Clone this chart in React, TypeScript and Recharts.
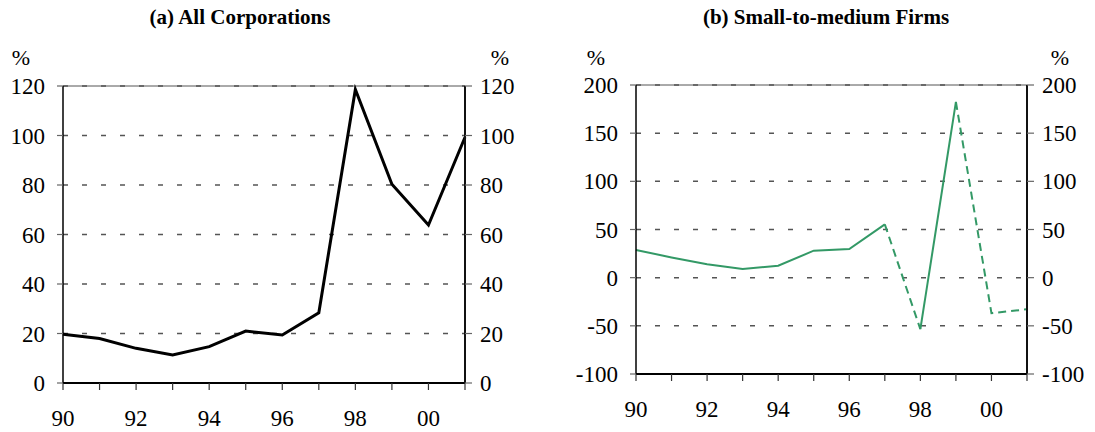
import { CartesianGrid, Line, LineChart, ReferenceLine, XAxis, YAxis } from "recharts";

const years = [1990, 1991, 1992, 1993, 1994, 1995, 1996, 1997, 1998, 1999, 2000, 2001];
const yearLabels = ["90", "", "92", "", "94", "", "96", "", "98", "", "00", ""];

// (a) all corporations, %
const allCorporations = [19.7, 18, 14, 11.3, 14.7, 21, 19.4, 28.4, 118.6, 80.3, 63.8, 99.3];
const allTicks = [0, 20, 40, 60, 80, 100, 120];

// (b) small-to-medium firms, %
const smeFirms = [28.8, 21, 14, 9.1, 12.4, 28, 29.7, 55.3, -53.5, 182.4, -36.9, -32.8];
const smeTicks = [-100, -50, 0, 50, 100, 150, 200];
// segment i joins year i to year i+1; these are drawn dashed
const smeDashedSegments = [7, 9, 10];

const FONT = "'Liberation Serif', 'Times New Roman', serif";
const GREEN = "#339966";
const tickStyle = { fill: "#000", fontSize: 23, fontFamily: FONT };

/**
 * Split the SME series into runs of solid / dashed segments.
 */
const buildSmeRuns = () => {
  const runs: { key: string; dashed: boolean; from: number; to: number }[] = [];
  for (let i = 0; i < years.length - 1; i++) {
    const dashed = smeDashedSegments.includes(i);
    const last = runs[runs.length - 1];
    if (last && last.dashed === dashed) last.to = i + 1;
    else runs.push({ key: `run${runs.length}`, dashed, from: i, to: i + 1 });
  }
  return runs;
};

const smeRuns = buildSmeRuns();

const allData = years.map((year, i) => ({ year, value: allCorporations[i] }));

const smeData = years.map((year, i) => {
  const row: Record<string, number | null> = { year, value: smeFirms[i] };
  smeRuns.forEach((r) => {
    row[r.key] = i >= r.from && i <= r.to ? smeFirms[i] : null;
  });
  return row;
});

function Panel({
  data,
  width,
  top,
  leftW,
  rightW,
  bottomH,
  domain,
  ticks,
  children,
}: {
  data: any[];
  width: number;
  top: number;
  leftW: number;
  rightW: number;
  bottomH: number;
  domain: [number, number];
  ticks: number[];
  children: React.ReactNode;
}) {
  return (
    <LineChart
      width={width}
      height={432}
      data={data}
      margin={{ top, right: 0, bottom: 0, left: 0 }}
    >
      <ReferenceLine y={domain[1]} stroke="#555" strokeWidth={1} />
      <CartesianGrid
        vertical={false}
        stroke="#555"
        strokeWidth={1.5}
        strokeDasharray="5 14"
      />
      <XAxis
        dataKey="year"
        type="number"
        domain={[1990, 2001]}
        ticks={years}
        interval={0}
        height={bottomH}
        tickFormatter={(_v: number, i: number) => yearLabels[i]}
        tick={tickStyle}
        tickSize={7}
        tickMargin={20}
        axisLine={{ stroke: "#000", strokeWidth: 2 }}
        tickLine={{ stroke: "#333", strokeWidth: 1.2 }}
      />
      <YAxis
        domain={domain}
        ticks={ticks}
        interval={0}
        width={leftW}
        tick={tickStyle}
        tickSize={6}
        tickMargin={12}
        axisLine={{ stroke: "#000", strokeWidth: 1.5 }}
        tickLine={{ stroke: "#666", strokeWidth: 1.2 }}
      />
      <YAxis
        yAxisId="r"
        orientation="right"
        domain={domain}
        ticks={ticks}
        interval={0}
        width={rightW}
        tick={tickStyle}
        tickSize={7}
        tickMargin={8}
        axisLine={{ stroke: "#111", strokeWidth: 2 }}
        tickLine={{ stroke: "#666", strokeWidth: 1.2 }}
      />
      {/* invisible series so the right-hand axis gets its ticks */}
      <Line
        yAxisId="r"
        dataKey="value"
        stroke="none"
        dot={false}
        activeDot={false}
        isAnimationActive={false}
      />
      {children}
    </LineChart>
  );
}

export default function App() {
  return (
    <div
      style={{
        position: "absolute",
        left: 0,
        top: 0,
        width: 1095,
        height: 432,
        background: "#fff",
        fontFamily: FONT,
      }}
    >
      <style>{`.recharts-cartesian-axis-tick-value, .recharts-text { font-family: ${FONT} !important; font-size: 23px !important; }`}</style>
      <div style={{ position: "absolute", left: 0, top: 0 }}>
        <Panel
          data={allData}
          width={547}
          top={86}
          leftW={63}
          rightW={82}
          bottomH={49}
          domain={[0, 120]}
          ticks={allTicks}
        >
          <Line
            dataKey="value"
            stroke="#000"
            strokeWidth={3}
            dot={false}
            activeDot={false}
            isAnimationActive={false}
          />
        </Panel>
      </div>
      <div style={{ position: "absolute", left: 547, top: 0 }}>
        <Panel
          data={smeData}
          width={548}
          top={85}
          leftW={89}
          rightW={68}
          bottomH={58}
          domain={[-100, 200]}
          ticks={smeTicks}
        >
          {smeRuns.map((r) => (
            <Line
              key={r.key}
              dataKey={r.key}
              stroke={GREEN}
              strokeWidth={2}
              strokeDasharray={r.dashed ? "8 5" : undefined}
              dot={false}
              activeDot={false}
              isAnimationActive={false}
            />
          ))}
        </Panel>
      </div>
      <svg
        width={1095}
        height={432}
        style={{ position: "absolute", left: 0, top: 0, pointerEvents: "none" }}
      >
        <g fontFamily={FONT} fill="#000">
          <text x={240} y={24} fontSize={21} fontWeight="bold" textAnchor="middle">
            (a) All Corporations
          </text>
          <text x={826} y={24} fontSize={21} fontWeight="bold" textAnchor="middle">
            (b) Small-to-medium Firms
          </text>
          <text x={21} y={65} fontSize={22} textAnchor="middle">%</text>
          <text x={500} y={65} fontSize={22} textAnchor="middle">%</text>
          <text x={596} y={65} fontSize={22} textAnchor="middle">%</text>
          <text x={1060} y={65} fontSize={22} textAnchor="middle">%</text>
        </g>
      </svg>
    </div>
  );
}
